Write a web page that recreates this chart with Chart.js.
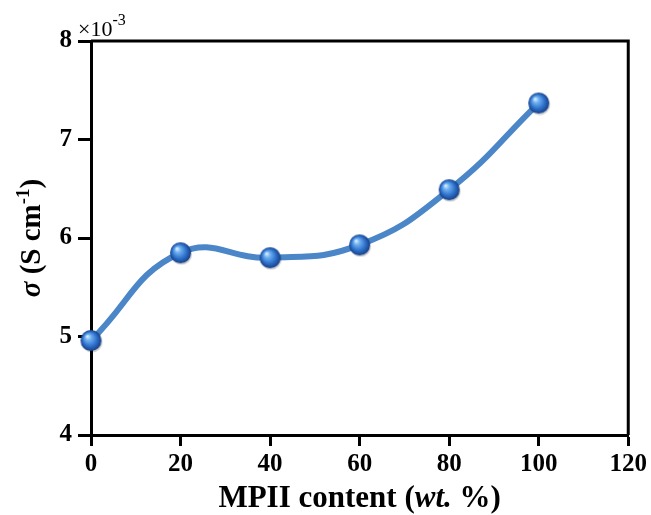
<!DOCTYPE html>
<html>
<head>
<meta charset="utf-8">
<script src="https://cdn.jsdelivr.net/npm/chart.js@4.4.1/dist/chart.umd.min.js"></script>
<style>
  html, body { margin: 0; padding: 0; background: #fff; }
  #wrap { width: 651px; height: 515px; position: relative; }
</style>
</head>
<body>
<div id="wrap"><canvas id="c" width="651" height="515"></canvas></div>
<script>
// ---- data (sigma in units of 10^-3 S cm^-1) ----
const mpiiContent = [0, 20, 40, 60, 80, 100];
const sigmaValues = [4.96, 5.85, 5.80, 5.93, 6.49, 7.37];
const xTicks = [0, 20, 40, 60, 80, 100, 120];
const yTicks = [4, 5, 6, 7, 8];
const xTitleParts = [["MPII content (", "normal"], ["wt.", "italic"], [" %)", "normal"]];
const yTitleParts = [["σ", "italic", false], [" (S cm", "normal", false], ["-1", "normal", true], [")", "normal", false]];
const scaleNote = ["×10", "-3"];

const SERIF = '"Liberation Serif", "Times New Roman", serif';

// sphere marker
function makeSphere(r) {
  const s = r * 2 + 4;
  const cv = document.createElement('canvas');
  cv.width = s; cv.height = s;
  const g = cv.getContext('2d');
  const cx = s / 2, cy = s / 2;
  g.beginPath();
  g.arc(cx + 1, cy + 1.5, r, 0, Math.PI * 2);
  g.fillStyle = 'rgba(0,0,0,0.18)';
  g.fill();
  const grad = g.createRadialGradient(cx - r * 0.35, cy - r * 0.4, r * 0.05, cx, cy, r);
  grad.addColorStop(0, '#d6ecff');
  grad.addColorStop(0.25, '#6fb0f0');
  grad.addColorStop(0.65, '#2f72cc');
  grad.addColorStop(1, '#163f86');
  g.beginPath();
  g.arc(cx, cy, r, 0, Math.PI * 2);
  g.fillStyle = grad;
  g.fill();
  return cv;
}
const sphere = makeSphere(10.5);

const framePlugin = {
  id: 'frame',
  afterDraw(chart) {
    const { ctx, chartArea: a } = chart;
    ctx.save();
    ctx.strokeStyle = '#000';
    ctx.lineWidth = 3;
    ctx.beginPath();
    ctx.moveTo(a.left, a.top);
    ctx.lineTo(a.right, a.top);
    ctx.lineTo(a.right, a.bottom);
    ctx.stroke();

    // x title
    const xf = 'bold 31px ' + SERIF;
    let total = 0;
    xTitleParts.forEach(p => {
      ctx.font = (p[1] === 'italic' ? 'italic ' : '') + xf;
      total += ctx.measureText(p[0]).width;
    });
    let x = (a.left + a.right) / 2 - total / 2;
    ctx.fillStyle = '#000';
    ctx.textBaseline = 'alphabetic';
    ctx.textAlign = 'left';
    xTitleParts.forEach(p => {
      ctx.font = (p[1] === 'italic' ? 'italic ' : '') + xf;
      ctx.fillText(p[0], x, 507);
      x += ctx.measureText(p[0]).width;
    });

    // y title (rotated)
    const yf = 'bold 29px ' + SERIF;
    const sf = 'bold 19px ' + SERIF;
    total = 0;
    yTitleParts.forEach(p => {
      ctx.font = p[2] ? sf : ((p[1] === 'italic' ? 'italic ' : '') + yf);
      total += ctx.measureText(p[0]).width;
    });
    ctx.save();
    ctx.translate(40, (a.top + a.bottom) / 2);
    ctx.rotate(-Math.PI / 2);
    let yx = -total / 2;
    yTitleParts.forEach(p => {
      ctx.font = p[2] ? sf : ((p[1] === 'italic' ? 'italic ' : '') + yf);
      ctx.fillText(p[0], yx, p[2] ? -11 : 0);
      yx += ctx.measureText(p[0]).width;
    });
    ctx.restore();

    // x10^-3 note
    ctx.font = '22px ' + SERIF;
    ctx.fillText(scaleNote[0], a.left - 13, 36);
    const w = ctx.measureText(scaleNote[0]).width;
    ctx.font = '16px ' + SERIF;
    ctx.fillText(scaleNote[1], a.left - 13 + w, 25);
    ctx.restore();
  }
};

new Chart(document.getElementById('c'), {
  type: 'line',
  data: {
    datasets: [{
      data: mpiiContent.map((x, i) => ({ x: x, y: sigmaValues[i] })),
      borderColor: '#4a86c8',
      borderWidth: 6,
      tension: 0.45,
      pointStyle: sphere,
      pointRadius: 12,
      pointHoverRadius: 12,
      clip: false
    }]
  },
  options: {
    responsive: false,
    animation: false,
    devicePixelRatio: 1,
    layout: { padding: { top: 41, right: 21, left: 0, bottom: 0 } },
    plugins: { legend: { display: false }, tooltip: { enabled: false } },
    scales: {
      x: {
        type: 'linear',
        min: 0, max: 120,
        afterBuildTicks: s => { s.ticks = xTicks.map(v => ({ value: v })); },
        afterFit: s => { s.height = 80; },
        grid: { display: true, drawOnChartArea: false, drawTicks: true, tickLength: 11, tickWidth: 3, color: '#000' },
        border: { display: true, color: '#000', width: 3 },
        ticks: { color: '#000', font: { family: SERIF, size: 25, weight: 'bold' }, padding: 4, maxRotation: 0 }
      },
      y: {
        min: 4, max: 8,
        afterBuildTicks: s => { s.ticks = yTicks.map(v => ({ value: v })); },
        afterFit: s => { s.width = 91; },
        grid: { display: true, drawOnChartArea: false, drawTicks: true, tickLength: 13, tickWidth: 3, color: '#000' },
        border: { display: true, color: '#000', width: 3 },
        ticks: { color: '#000', font: { family: SERIF, size: 25, weight: 'bold' }, padding: 6 }
      }
    }
  },
  plugins: [framePlugin]
});
</script>
</body>
</html>
